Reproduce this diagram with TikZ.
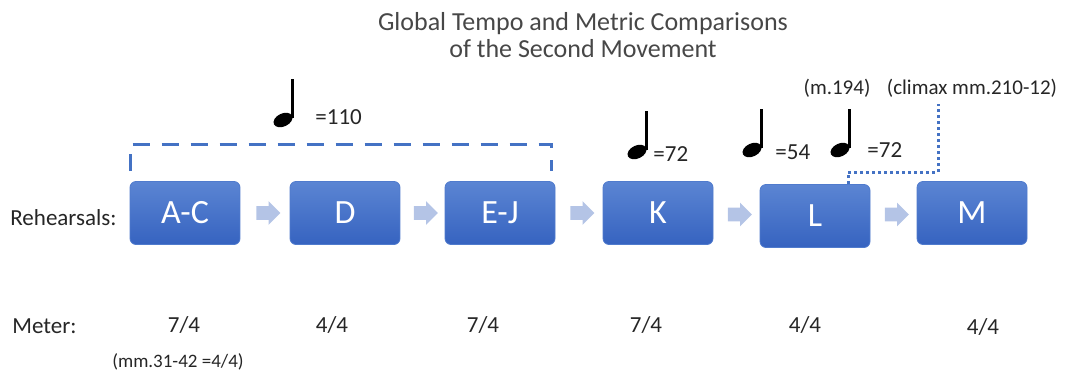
\documentclass[tikz,border=0pt]{standalone}
\usepackage{fontspec}
\setmainfont{Carlito}
\usetikzlibrary{calc}
\usetikzlibrary{shapes.arrows}

\definecolor{boxtop}{HTML}{5B85D3}
\definecolor{boxbot}{HTML}{3663C0}
\definecolor{accent}{HTML}{4472C4}
\definecolor{flowfill}{HTML}{B4C4E6}
\definecolor{ink}{HTML}{262626}

\tikzset{
  rehearsal/.style={rounded corners=3pt, minimum width=55pt, minimum height=31.5pt,
    top color=boxtop, bottom color=boxbot, draw=boxtop!70!boxbot, line width=0.4pt,
    text=white, font=\fontsize{17}{20}\selectfont},
  flow/.style={single arrow, fill=flowfill, draw=none, inner xsep=0pt, inner ysep=3.25pt,
    minimum height=12pt, single arrow head extend=2.5pt},
  label/.style={font=\fontsize{11.5}{13}\selectfont, text=ink, inner sep=0pt},
  tempo/.style={label, anchor=west},
  remark/.style={font=\fontsize{10.5}{12}\selectfont, text=ink, inner sep=0pt},
  crotchet/.pic={
    \fill[rotate=25] (0,0) ellipse (10 and 6.5);
    \draw[line width=1.4pt] (9.3,-2) -- (9.3,-41);
  }
}

\begin{document}
\begin{tikzpicture}[x=0.5pt,y=-0.5pt]
  \useasboundingbox (0,0) rectangle (1065,375);

  % Title
  \node[font=\fontsize{13}{13.5}\selectfont, text=ink!85, align=center] (title) at (583,35)
    {Global Tempo and Metric Comparisons\\of the Second Movement};

  % Rehearsal boxes
  \node[label, anchor=west] (rehearsals) at (10,218) {Rehearsals:};
  \foreach \nm/\x/\y/\lab in {ac/185/213/A-C, d/345/213/D, ej/500/213/E-J,
                              k/658/213/K, l/815/216/L, m/972/213/M} {
    \node[rehearsal] (\nm) at (\x,\y) {\lab};
  }
  \foreach \a/\b in {ac/d, d/ej, ej/k, k/l, l/m} {
    \node[flow] at ($(\a.east)!0.5!(\b.west)$) {};
  }

  % Span of the first tempo
  \draw[accent, line width=1.5pt, dash pattern=on 8.5pt off 6pt]
    ([xshift=0.5pt,yshift=5pt]ac.north west) -- ++(0,-27) -| ([xshift=-2pt,yshift=5pt]ej.north east);

  % Tempo markings
  \pic at (283,120) {crotchet};
  \node[tempo] (t110) at (315,117) {=110};
  \pic at (637,152) {crotchet};
  \node[tempo] (t72a) at (653,154) {=72};
  \pic at (752,150) {crotchet};
  \node[tempo] (t54) at (775,152) {=54};
  \pic at (840,150) {crotchet};
  \node[tempo] (t72b) at (867,150) {=72};
  \node[remark] (m194) at (837,88) {(m.194)};
  \node[remark] (climax) at (972,88) {(climax mm.210-12)};

  % Climax pointer
  \coordinate (peak) at ([xshift=-17pt,yshift=-3pt]climax.south);
  \draw[accent, line width=1.5pt, dash pattern=on 1.5pt off 1.5pt]
    ([xshift=16.5pt]l.north) |- ($(peak)+(0,69)$) -- (peak);

  % Meters
  \node[label, anchor=west] (meter) at (12,326) {Meter:};
  \foreach \x/\y/\val in {184/325/{7/4}, 332/325/{4/4}, 483/325/{7/4},
                          646/325/{7/4}, 805/325/{4/4}, 983/327/{4/4}} {
    \node[label] at (\x,\y) {\val};
  }
  \node[remark, font=\fontsize{9.5}{11}\selectfont] (mm31) at (178,362) {(mm.31-42 =4/4)};
\end{tikzpicture}
\end{document}
